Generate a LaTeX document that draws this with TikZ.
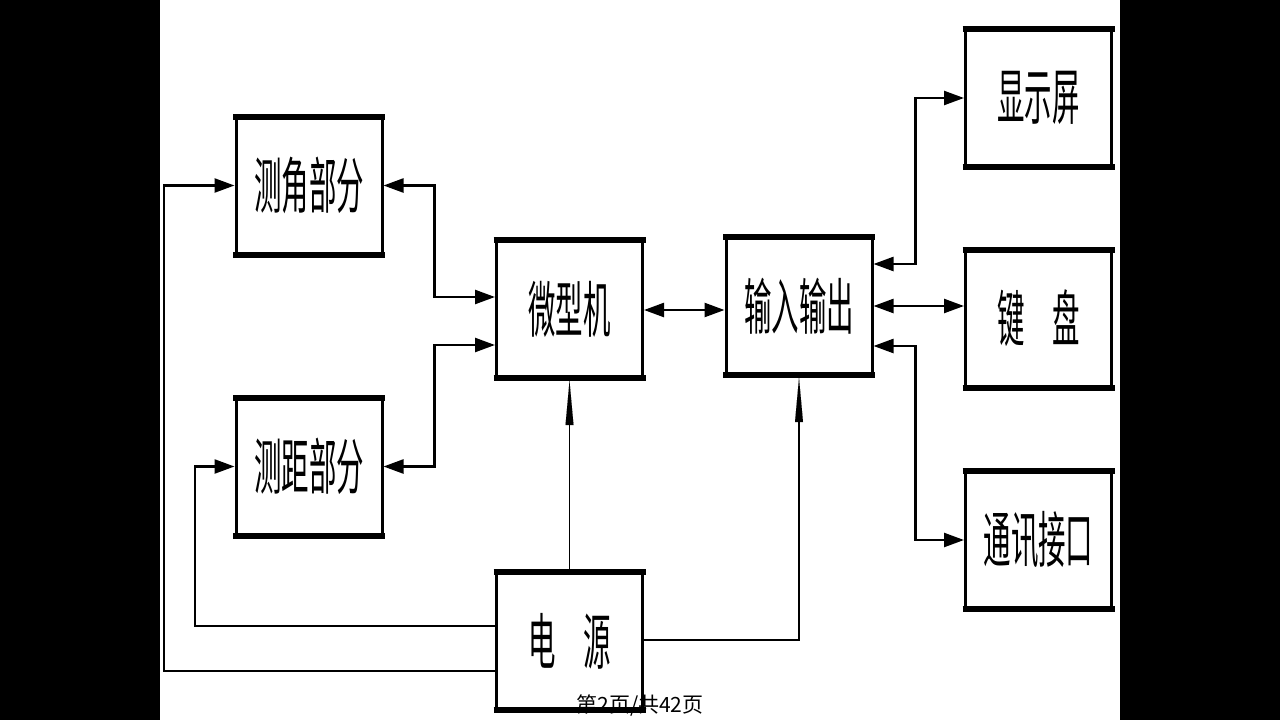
\documentclass[tikz,border=0pt]{standalone}
\usepackage{fontspec}
\usepackage{graphicx}
\usetikzlibrary{arrows.meta}
\newfontfamily\cjk{Noto Sans CJK SC}
\newcommand\blbl[1]{\scalebox{0.45}[1]{\cjk\fontsize{61}{61}\selectfont #1}}
\tikzset{
  blk/.style={minimum width=146pt, minimum height=135pt, inner sep=0pt, draw=black, line width=3pt, fill=white},
  conn/.style={line width=2.4pt, draw=black},
  thinconn/.style={line width=1.5pt, draw=black},
  tipH/.tip={Triangle[length=20pt,width=14pt]},
  tipV/.tip={Triangle[length=44pt,width=8pt,line width=0.01pt]}
}
\begin{document}
\begin{tikzpicture}[x=1pt,y=-1pt]
\useasboundingbox (0,0) rectangle (1280,720);
\fill[white] (0,0) rectangle (1280,720);
\fill[black] (0,0) rectangle (160,720);
\fill[black] (1120,0) rectangle (1280,720);

\node[blk] (ja) at (309,185.5) {\blbl{测角部分}};
\node[blk] (jl) at (309,466.5) {\blbl{测距部分}};
\node[blk] (wx) at (569.5,309) {\blbl{微型机}};
\node[blk] (io) at (799,306) {\blbl{输入输出}};
\node[blk] (xs) at (1038.5,98) {\blbl{显示屏}};
\node[blk] (jp) at (1038.5,318.5) {\blbl{键　盘}};
\node[blk] (tx) at (1038.5,540) {\blbl{通讯接口}};
\node[blk] (dy) at (569.5,641) {\blbl{电　源}};

\foreach \n in {ja,jl,wx,io,xs,jp,tx,dy}{
  \draw[line width=6pt] ([xshift=-1.5pt]\n.north west) -- ([xshift=1.5pt]\n.north east);
  \draw[line width=6pt] ([xshift=-1.5pt]\n.south west) -- ([xshift=1.5pt]\n.south east);
}

% power lines to the left blocks
\draw[conn,-{tipH}] ([yshift=-30pt]dy.west) -- ++(-331,0) |- (ja.west);
\draw[conn,-{tipH}] ([yshift=15pt]dy.west) -- ++(-300,0) |- (jl.west);
% measuring blocks <-> microcomputer
\draw[conn,{tipH}-{tipH}] (ja.east) -- ++(51,0) |- ([yshift=12pt]wx.west);
\draw[conn,{tipH}-{tipH}] (jl.east) -- ++(51,0) |- ([yshift=-36pt]wx.west);
% microcomputer <-> io
\draw[conn,{tipH}-{tipH}] ([yshift=-1pt]wx.east) -- ([yshift=-1pt]wx.east -| io.west);
% power up
\draw[thinconn,-{tipV}] (dy.north) -- ([yshift=-3pt]wx.south);
\draw[thinconn,-{tipV}] ([yshift=1pt]dy.east) -| ([yshift=-3pt]io.south);
% io to peripherals
\draw[conn,{tipH}-{tipH}] ([yshift=42pt]io.east) -- ++(42,0) |- (xs.west);
\draw[conn,{tipH}-{tipH}] (io.east) -- (io.east -| jp.west);
\draw[conn,{tipH}-{tipH}] ([yshift=-40pt]io.east) -- ++(42,0) |- (tx.west);

\node[inner sep=0pt] (ft) at (640,705) {\cjk\fontsize{21}{21}\selectfont 第2页/共42页};
\end{tikzpicture}
\end{document}
